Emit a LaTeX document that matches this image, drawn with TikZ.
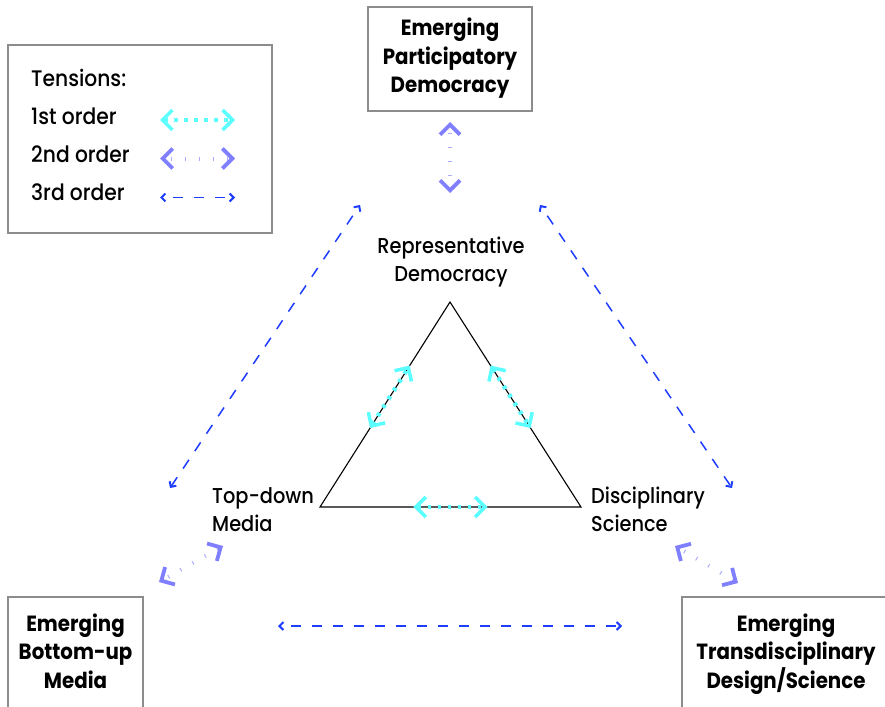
\documentclass[tikz,border=0pt]{standalone}
\usepackage{fontspec}
\setmainfont{Poppins}[UprightFont=* Medium, BoldFont=* Bold, FakeStretch=0.9]
\usetikzlibrary{arrows.meta,calc}
\definecolor{cone}{HTML}{5CFFFF}
\definecolor{ctwo}{HTML}{7F7FFF}
\definecolor{cthree}{HTML}{1F3DFF}
\definecolor{cframe}{HTML}{8C8C8C}
\tikzset{
  tipone/.tip={Straight Barb[length=10pt,width=20pt,line width=3.5pt,sharp]},
  tiptwo/.tip={Straight Barb[length=10pt,width=20pt,line width=3.8pt,sharp,color=ctwo]},
  tipthree/.tip={Straight Barb[length=4pt,width=8pt,line width=2pt,sharp]},
  tone/.style={draw=cone, line width=4.5pt, dash pattern=on 3.5pt off 6.5pt, tipone-tipone},
  ttwo/.style={draw=ctwo!65, line width=4pt, dash pattern=on 1pt off 13pt, dash phase=-6pt, tiptwo-tiptwo},
  tthree/.style={draw=cthree, line width=1.5pt, dash pattern=on 10.5pt off 10.5pt, dash phase=10.5pt, tipthree-tipthree},
  lbl/.style={inner sep=0pt, font=\fontsize{21.5}{28}\selectfont},
  leg/.style={inner sep=0pt, font=\fontsize{22.5}{28}\selectfont},
  blbl/.style={inner sep=0pt, font=\bfseries\fontsize{22}{28.5}\selectfont},
  frame/.style={draw=cframe, line width=1.3pt},
  tri/.style={draw=black, line width=1.1pt, line join=miter},
}
\begin{document}
\begin{tikzpicture}[x=1pt,y=-1pt]
\useasboundingbox (0,0) rectangle (885,706);
% frames
\draw[frame] (8,45) rectangle (272,233);
\draw[frame] (368,7) rectangle (532,111);
\draw[frame] (8,597) rectangle (143,730);
\draw[frame] (682,597) rectangle (900,730);
% legend
\node[leg, anchor=base west] (lt) at (31,86.5) {Tensions:};
\node[leg, anchor=base west] (l1) at (31,124.5) {1st order};
\node[leg, anchor=base west] (l2) at (31,162.5) {2nd order};
\node[leg, anchor=base west] (l3) at (31,200.5) {3rd order};
\coordinate (l1a) at (160,120); \coordinate (l1b) at (235,120);
\coordinate (l2a) at (160,158.5); \coordinate (l2b) at (235,158.5);
\coordinate (l3a) at (160,197.5); \coordinate (l3b) at (235,197.5);
\draw[tone] (l1a) -- (l1b);
\draw[ttwo] (l2a) -- (l2b);
\draw[tthree] (l3a) -- (l3b);
% box texts
\node[blbl, anchor=base] (epd) at (450,36) {\begin{tabular}[t]{@{}c@{}}Emerging\\Participatory\\Democracy\end{tabular}};
\node[blbl, anchor=base] (ebm) at (75.5,631) {\begin{tabular}[t]{@{}c@{}}Emerging\\Bottom-up\\Media\end{tabular}};
\node[blbl, anchor=base] (etd) at (786,631) {\begin{tabular}[t]{@{}c@{}}Emerging\\Transdisciplinary\\Design/Science\end{tabular}};
% inner labels
\node[lbl, anchor=base] (rd) at (451,253) {\begin{tabular}[t]{@{}c@{}}Representative\\Democracy\end{tabular}};
\node[lbl, anchor=base west] (tdm) at (212,503) {\begin{tabular}[t]{@{}l@{}}Top-down\\Media\end{tabular}};
\node[lbl, anchor=base west] (ds) at (591,503) {\begin{tabular}[t]{@{}l@{}}Disciplinary\\Science\end{tabular}};
% triangle
\coordinate (A) at (450,302);
\coordinate (L) at (320,507);
\coordinate (R) at (581,507);
\draw[tri] (A) -- (L) -- (R) -- cycle;
% first order
\draw[tone] ($(L)!0.385!(A)$) -- ($(L)!0.69!(A)$);
\draw[tone] ($(R)!0.69!(A)$) -- ($(R)!0.385!(A)$);
\draw[tone] ($(L)!0.358!(R)$) -- ($(L)!0.642!(R)$);
% second order
\coordinate (t2a) at (450,122); \coordinate (t2b) at (450,193);
\coordinate (bl2a) at (159,582); \coordinate (bl2b) at (223,546);
\coordinate (br2a) at (675,546); \coordinate (br2b) at (738,583);
\draw[ttwo] (t2a) -- (t2b);
\draw[ttwo] (bl2a) -- (bl2b);
\draw[ttwo] (br2a) -- (br2b);
% third order
\coordinate (d1a) at (360,205); \coordinate (d1b) at (170,488);
\coordinate (d2a) at (540,205); \coordinate (d2b) at (732,488);
\coordinate (d3a) at (278,626); \coordinate (d3b) at (622,626);
\draw[tthree] (d1a) -- (d1b);
\draw[tthree] (d2a) -- (d2b);
\draw[tthree] (d3a) -- (d3b);
\end{tikzpicture}
\end{document}
